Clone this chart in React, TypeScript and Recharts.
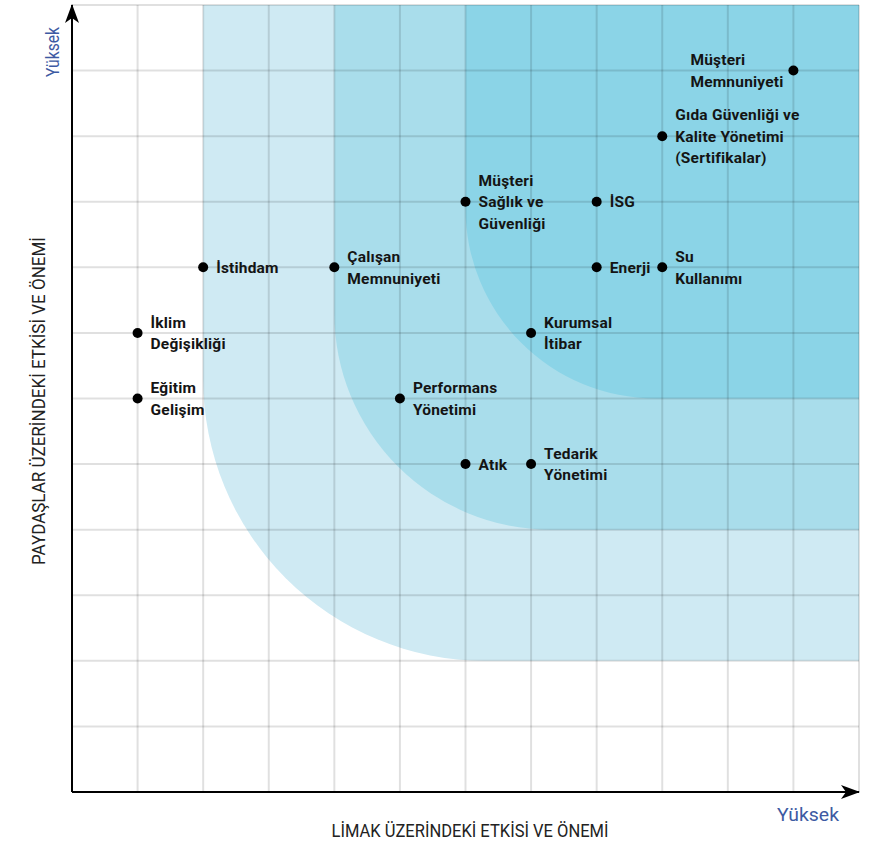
import React from 'react';
import { ScatterChart, Scatter, XAxis, YAxis, ReferenceArea, ReferenceLine } from 'recharts';

// Matris ekseni: 0..12 birim
const gridSteps = [0, 1, 2, 3, 4, 5, 6, 7, 8, 9, 10, 11, 12];

// Konular ve iki eksendeki önem değerleri
const topicLines: string[][] = [
  ['Müşteri', 'Memnuniyeti'],
  ['Gıda Güvenliği ve', 'Kalite Yönetimi', '(Sertifikalar)'],
  ['Müşteri', 'Sağlık ve', 'Güvenliği'],
  ['İSG'],
  ['İstihdam'],
  ['Çalışan', 'Memnuniyeti'],
  ['Enerji'],
  ['Su', 'Kullanımı'],
  ['İklim', 'Değişikliği'],
  ['Kurumsal', 'İtibar'],
  ['Eğitim', 'Gelişim'],
  ['Performans', 'Yönetimi'],
  ['Atık'],
  ['Tedarik', 'Yönetimi'],
];
const limakImpact = [11, 9, 6, 8, 2, 4, 8, 9, 1, 7, 1, 5, 6, 7];
const stakeholderImpact = [11, 10, 9, 9, 8, 8, 8, 8, 7, 7, 6, 6, 5, 5];

// Önem bölgeleri (açıktan koyuya)
const zoneStartX = [2, 4, 6];
const zoneStartY = [2, 4, 6];
const zoneCornerUnits = [4.3, 3.3, 2.9];
const zoneColors = ['#cfeaf3', '#a9ddeb', '#8bd4e7'];

const arrowTips = [
  { x: 12, y: 0, dir: 'right' },
  { x: 0, y: 12, dir: 'up' },
];

const FONT = "Roboto, 'Noto Sans', sans-serif";
const BLUE = '#3d5aa3';

const points = topicLines.map((lines, i) => ({
  x: limakImpact[i],
  y: stakeholderImpact[i],
  lines,
}));

// etiket yatay kaydırma (varsayılan: noktanın sağı)
const labelDx: Record<string, number> = { 'Müşteri Memnuniyeti': -103 };

const zoneShape = (cornerUnits: number, fill: string, startX: number) => (props: any) => {
  const { x, y, width, height } = props;
  const unit = width / (12 - startX);
  const r = Math.min(cornerUnits * unit, width, height);
  const d = `M${x},${y} L${x + width},${y} L${x + width},${y + height} L${x + r},${y + height} A${r},${r} 0 0 1 ${x},${y + height - r} Z`;
  return <path d={d} fill={fill} stroke="none" />;
};

const TopicDot = (props: any) => {
  const { cx, cy, payload } = props;
  const lines: string[] = payload.lines;
  const key = lines.join(' ');
  const dx = labelDx[key] ?? 13;
  const lh = 21.5;
  const startY = cy - ((lines.length - 1) * lh) / 2;
  return (
    <g>
      <circle cx={cx} cy={cy} r={5} fill="#000" />
      {lines.map((l, i) => (
        <text
          key={i}
          x={cx + dx}
          y={startY + i * lh + 5.5}
          fontFamily={FONT}
          fontWeight="bold"
          fontSize={15.5}
          letterSpacing={0.2}
          fill="#141414"
        >
          {l}
        </text>
      ))}
    </g>
  );
};

const ArrowHead = (props: any) => {
  const { cx, cy, payload } = props;
  const d =
    payload.dir === 'right'
      ? `M${cx + 1},${cy} L${cx - 18},${cy - 7} L${cx - 13},${cy} L${cx - 18},${cy + 7} Z`
      : `M${cx},${cy - 1} L${cx - 7},${cy + 18} L${cx},${cy + 13} L${cx + 7},${cy + 18} Z`;
  return <path d={d} fill="#000" />;
};

export default function App() {
  return (
    <div style={{ position: 'absolute', left: 0, top: 0, width: 875, height: 842, background: '#fff' }}>
      <ScatterChart width={875} height={842} margin={{ top: 5, right: 16, bottom: 50, left: 72 }}>
        <XAxis type="number" dataKey="x" domain={[0, 12]} ticks={gridSteps} hide />
        <YAxis type="number" dataKey="y" domain={[0, 12]} ticks={gridSteps} hide />
        {zoneStartX.map((sx, i) => (
          <ReferenceArea
            key={'z' + i}
            x1={sx}
            x2={12}
            y1={zoneStartY[i]}
            y2={12}
            shape={zoneShape(zoneCornerUnits[i], zoneColors[i], sx)}
          />
        ))}
        {gridSteps.slice(1).map((v) => (
          <ReferenceLine key={'gx' + v} x={v} stroke="rgba(0,0,0,0.12)" strokeWidth={2} />
        ))}
        {gridSteps.slice(1).map((v) => (
          <ReferenceLine key={'gy' + v} y={v} stroke="rgba(0,0,0,0.12)" strokeWidth={2} />
        ))}
        <ReferenceLine x={0} stroke="#000" strokeWidth={2} />
        <ReferenceLine y={0} stroke="#000" strokeWidth={2} />
        <Scatter data={arrowTips} shape={ArrowHead} isAnimationActive={false} />
        <Scatter data={points} shape={TopicDot} isAnimationActive={false} />
      </ScatterChart>
      <svg width={875} height={842} style={{ position: 'absolute', left: 0, top: 0, pointerEvents: 'none' }}>
        <text x={52} y={52} transform="rotate(-90 52 52)" textAnchor="middle" dominantBaseline="central" fontFamily={FONT} fontSize={18} textLength={50} lengthAdjust="spacingAndGlyphs" fill={BLUE}>
          Yüksek
        </text>
        <text x={808} y={821} textAnchor="middle" fontFamily={FONT} fontSize={18} textLength={62} lengthAdjust="spacingAndGlyphs" fill={BLUE}>
          Yüksek
        </text>
        <text x={470} y={837} textAnchor="middle" fontFamily={FONT} fontSize={19} textLength={277} lengthAdjust="spacingAndGlyphs" fill="#222">
          LİMAK ÜZERİNDEKİ ETKİSİ VE ÖNEMİ
        </text>
        <text x={38} y={401} transform="rotate(-90 38 401)" textAnchor="middle" dominantBaseline="central" fontFamily={FONT} fontSize={19} textLength={328} lengthAdjust="spacingAndGlyphs" fill="#222">
          PAYDAŞLAR ÜZERİNDEKİ ETKİSİ VE ÖNEMİ
        </text>
      </svg>
    </div>
  );
}
